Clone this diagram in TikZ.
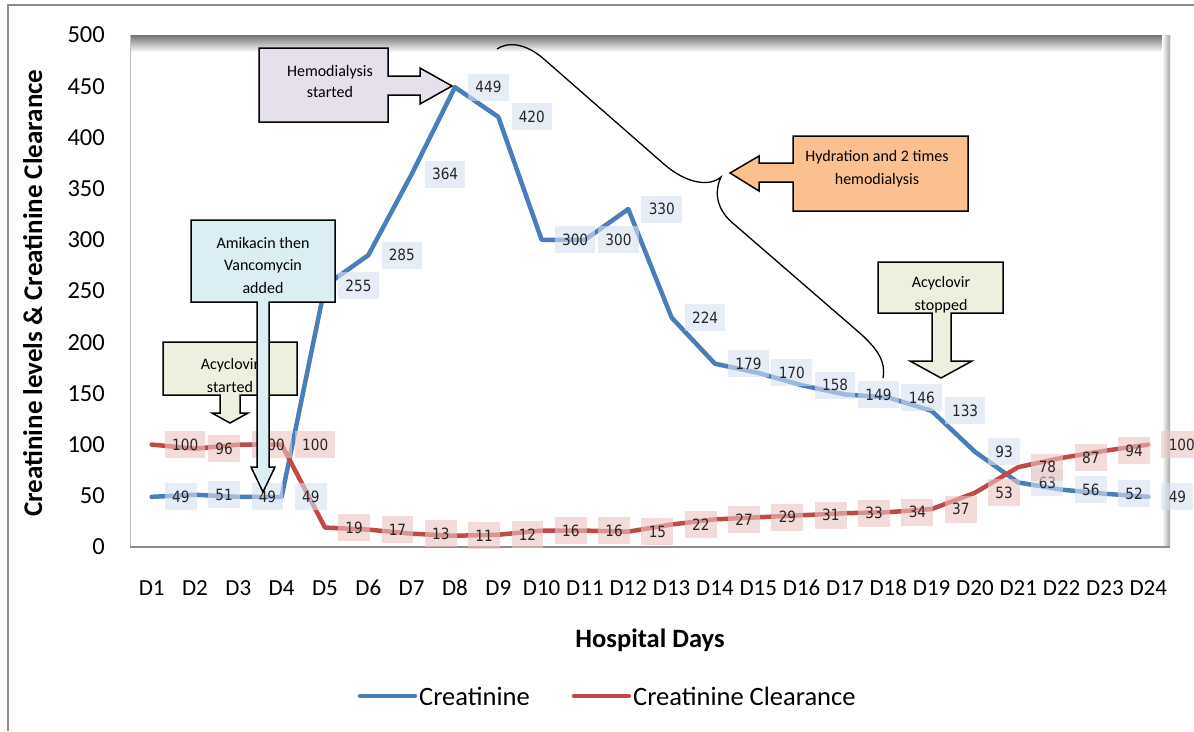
\documentclass[tikz,border=0pt]{standalone}
\usepackage{fontspec}
\setmainfont{Carlito}
\newfontfamily\labfont{DejaVu Sans}
\definecolor{serA}{RGB}{74,126,187}
\definecolor{serB}{RGB}{190,75,72}
\definecolor{labA}{RGB}{214,225,242}
\definecolor{labB}{RGB}{235,196,194}
\definecolor{framegray}{RGB}{140,140,140}
\definecolor{lav}{RGB}{229,224,236}
\definecolor{skyb}{RGB}{218,238,243}
\definecolor{paleg}{RGB}{235,241,222}
\definecolor{peach}{RGB}{250,192,144}
\newcommand{\narrow}[1]{\scalebox{0.88}[1]{#1}}
\begin{document}
\begin{tikzpicture}[x=1pt,y=-1pt,
  series/.style={line width=4.5pt, line join=round, line cap=round},
  vallab/.style={anchor=west, xshift=13pt, fill opacity=0.6, text opacity=1,
    inner xsep=7.3pt, inner ysep=0pt, minimum height=27pt, text=black!85,
    font=\labfont\fontsize{15.5}{15.5}\selectfont},
  labblue/.style={vallab, fill=labA},
  labred/.style={vallab, fill=labB},
  callout/.style={draw=black, line width=1.5pt, line join=miter},
  notetext/.style={align=center, inner sep=0pt, font=\fontsize{16}{22.5}\selectfont},
  ticklab/.style={inner sep=0pt, font=\fontsize{24.5}{24.5}\selectfont},
  daylab/.style={inner sep=0pt, anchor=base, font=\fontsize{23}{23}\selectfont},
  bigtitle/.style={inner sep=0pt, font=\bfseries\fontsize{26.5}{26.5}\selectfont},
  legtext/.style={anchor=west, inner sep=0pt, font=\fontsize{26.5}{26.5}\selectfont}]

\useasboundingbox (0,0) rectangle (1194,731);
\fill[white] (0,0) rectangle (1194,731);

% outer chart frame (left and top edges)
\draw[framegray, line width=2pt] (8,731) -- (8,5) -- (1194,5);

% plot area with its inner shadow
\shade[top color=black!55, bottom color=white] (130,35) rectangle (1170,52);
\shade[left color=white, right color=black!35] (1162,35) rectangle (1170,547);
\draw[black!25, line width=1pt] (130,35) -- (130,547);
\draw[black!45, line width=1.5pt] (130,547) -- (1170,547);

% vertical axis
\foreach \v in {0,50,...,500}
  \node[ticklab, anchor=east] (yt\v) at (105,{547-1.024*\v}) {\v};
\node[bigtitle, rotate=90, anchor=base, font=\bfseries\fontsize{27}{27}\selectfont] (ytitle) at (42,293)
  {Creatinine levels \& Creatinine Clearance};

% horizontal axis
\foreach \i in {1,...,24}
  \node[daylab] (xt\i) at ({108.33+43.33*\i},595) {D\i};
\node[bigtitle] (xtitle) at (650,640) {Hospital Days};

% data points
\foreach \v [count=\i] in {49,51,49,49,255,285,364,449,420,300,300,330,224,179,170,158,149,146,133,93,63,56,52,49}
  \coordinate (a\i) at ({108.33+43.33*\i},{547-1.024*\v});
\foreach \v [count=\i] in {100,96,100,100,19,17,13,11,12,16,16,15,22,27,29,31,33,34,37,53,78,87,94,100}
  \coordinate (b\i) at ({108.33+43.33*\i},{547-1.024*\v});

% series lines
\draw[series, serA] (a1) \foreach \i in {2,...,24}{ -- (a\i)};
\draw[series, serB] (b1) \foreach \i in {2,...,24}{ -- (b\i)};

% value labels
\foreach \v [count=\i] in {49,51,49,49,255,285,364,449,420,300,300,330,224,179,170,158,149,146,133,93,63,56,52,49}
  \node[labblue] (la\i) at (a\i) {\narrow{\v}};
\foreach \v [count=\i] in {100,96,100,100,19,17,13,11,12,16,16,15,22,27,29,31,33,34,37,53,78,87,94,100}
  \node[labred] (lb\i) at (b\i) {\narrow{\v}};

% legend
\coordinate (lgA1) at (360,696); \coordinate (lgA2) at (415,696);
\coordinate (lgB1) at (574,696); \coordinate (lgB2) at (629,696);
\draw[series, serA] (lgA1) -- (lgA2);
\node[legtext] (lgAt) at (419,696) {Creatinine};
\draw[series, serB] (lgB1) -- (lgB2);
\node[legtext] (lgBt) at (633,696) {Creatinine Clearance};

% callout: hemodialysis started
\filldraw[callout, fill=lav] (259,48) -- (388,48) -- (388,76) -- (420,76) -- (420,68)
  -- (452,86) -- (420,104) -- (420,95) -- (388,95) -- (388,122) -- (259,122) -- cycle;
\node[notetext, font=\fontsize{16}{21}\selectfont] (hd) at (330,82) {Hemodialysis\\started};

% callout: acyclovir started
\filldraw[callout, fill=paleg] (163,342) -- (297,342) -- (297,395) -- (240,395) -- (240,413)
  -- (248,413) -- (230,423) -- (212,413) -- (220,413) -- (220,395) -- (163,395) -- cycle;
\node[notetext, font=\fontsize{16}{23}\selectfont] (acs) at (230,375) {Acyclovir\\started};

% callout: amikacin then vancomycin
\filldraw[callout, fill=skyb] (191,220) -- (335,220) -- (335,302) -- (269,302) -- (269,467)
  -- (275,467) -- (263,492) -- (251,467) -- (257,467) -- (257,302) -- (191,302) -- cycle;
\node[notetext] (amk) at (263,265) {Amikacin then\\Vancomycin\\added};

% callout: acyclovir stopped
\filldraw[callout, fill=paleg] (878,262) -- (1003,262) -- (1003,313) -- (951,313) -- (951,361)
  -- (972,361) -- (941,378) -- (910,361) -- (932,361) -- (932,313) -- (878,313) -- cycle;
\node[notetext, font=\fontsize{16}{23}\selectfont] (acp) at (941,295) {Acyclovir\\stopped};

% callout: hydration and dialysis
\filldraw[callout, fill=peach] (793,136) -- (968,136) -- (968,211) -- (793,211) -- (793,182)
  -- (759,182) -- (759,191) -- (730,173) -- (759,156) -- (759,163) -- (793,163) -- cycle;
\node[notetext, font=\fontsize{16}{23}\selectfont] (hyd) at (877,169) {Hydration and 2 times\\hemodialysis};

% brace over the falling stretch
\coordinate (brTop) at (497,49);
\coordinate (brTip) at (721,177);
\coordinate (brEnd) at (883,378);
\draw[black, line width=1.3pt] (brTop) .. controls (507,42) and (525,42) .. (545,60)
  -- (665,165) .. controls (685,182) and (708,188) .. (brTip)
  .. controls (714,192) and (716,210) .. (735,225)
  -- (862,335) .. controls (878,350) and (886,362) .. (brEnd);
\end{tikzpicture}
\end{document}
